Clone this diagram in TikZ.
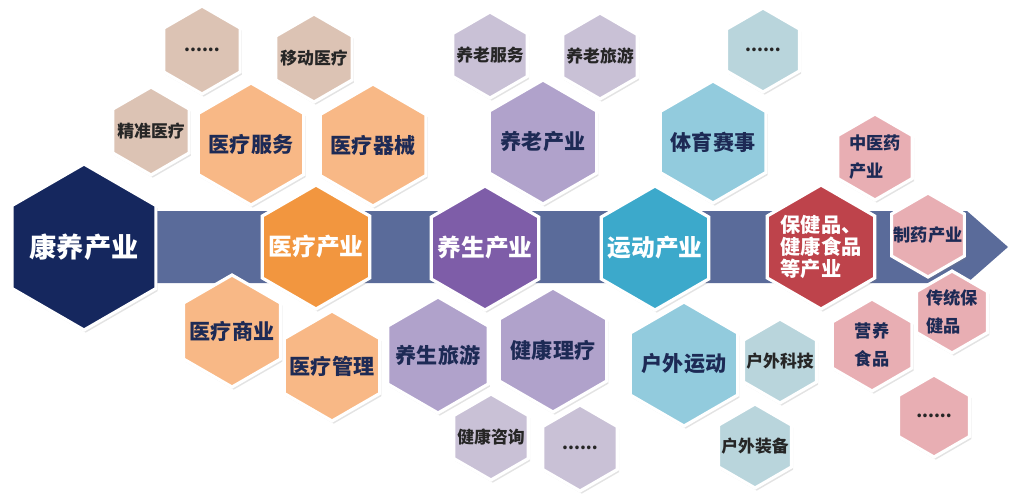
\documentclass[tikz,border=0pt]{standalone}
\usepackage{fontspec}
\setmainfont{Noto Sans CJK SC}
\usetikzlibrary{shadows}

\definecolor{navy}{HTML}{15275E}
\definecolor{bandblue}{HTML}{5A6B9A}
\definecolor{orangecore}{HTML}{F2963F}
\definecolor{orangemid}{HTML}{F8B886}
\definecolor{tansmall}{HTML}{DCC3B4}
\definecolor{purplecore}{HTML}{7E5DA8}
\definecolor{purplemid}{HTML}{B0A2CB}
\definecolor{purplesmall}{HTML}{C9C1D6}
\definecolor{tealcore}{HTML}{3CA9CB}
\definecolor{bluemid}{HTML}{92CBDD}
\definecolor{bluesmall}{HTML}{B9D5DC}
\definecolor{redcore}{HTML}{BE434B}
\definecolor{pinksmall}{HTML}{E8AEB3}
\definecolor{darktext}{HTML}{1D2A55}

\tikzset{
  hexborder/.style={draw=white, line width=1.8pt, line join=miter,
    drop shadow={opacity=0.22, shadow xshift=1pt, shadow yshift=-1.5pt}},
  coretext/.style={text=white, font=\bfseries\fontsize{13.5}{16}\selectfont},
  midtext/.style={text=darktext, font=\bfseries\fontsize{12}{14}\selectfont},
  smalltext/.style={text=black!85, font=\bfseries\fontsize{9.6}{16}\selectfont},
  pinktext/.style={text=darktext, font=\bfseries\fontsize{9.8}{16}\selectfont, align=left},
}

% name, x, y, radius, fill, text style, text
\newcommand{\hexcell}[7]{%
  \filldraw[hexborder, fill=#5, shift={(#2,#3)}]
    (90:#4) -- (30:#4) -- (-30:#4) -- (-90:#4) -- (-150:#4) -- (150:#4) -- cycle;
  \node[#6] (#1) at (#2,#3) {#7};
}

\begin{document}
\begin{tikzpicture}[x=0.02cm, y=-0.02cm]
  \useasboundingbox (0,0) rectangle (1011,500);

  % band
  \fill[bandblue] (90,211) -- (967,211) -- (1008,247) -- (967,283) -- (90,283) -- cycle;

  % small outer hexagons
  \hexcell{dotsmed}{202}{50}{44}{tansmall}{smalltext}{......}
  \hexcell{mobile}{314}{58}{44}{tansmall}{smalltext}{移动医疗}
  \hexcell{precise}{151}{131}{44}{tansmall}{smalltext}{精准医疗}

  \hexcell{eldercare}{490}{55}{43}{purplesmall}{smalltext}{养老服务}
  \hexcell{eldertour}{600}{56}{43}{purplesmall}{smalltext}{养老旅游}
  \hexcell{consult}{491}{437}{43}{purplesmall}{smalltext}{健康咨询}
  \hexcell{dotswell}{580}{448}{43}{purplesmall}{smalltext}{......}

  \hexcell{dotssport}{763}{50}{42}{bluesmall}{smalltext}{......}
  \hexcell{outtech}{780}{361}{42}{bluesmall}{smalltext}{户外科技}
  \hexcell{outgear}{755}{446}{42}{bluesmall}{smalltext}{户外装备}

  \hexcell{tcm}{875}{157}{43}{pinksmall}{pinktext}{中医药\\产业}
  \hexcell{pharma}{928}{235}{42}{pinksmall}{pinktext}{制药产业}
  \hexcell{tradition}{952}{312}{41}{pinksmall}{pinktext}{传统保\\健品}
  \hexcell{nutrition}{872}{345}{46}{pinksmall}{pinktext}{营养\\食品}
  \hexcell{dotsfood}{934}{416}{41}{pinksmall}{smalltext}{......}

  % middle hexagons
  \hexcell{medservice}{251}{144}{61}{orangemid}{midtext}{医疗服务}
  \hexcell{meddevice}{373}{145}{61}{orangemid}{midtext}{医疗器械}
  \hexcell{medbusiness}{232}{331}{56}{orangemid}{midtext}{医疗商业}
  \hexcell{medmanage}{332}{366}{55}{orangemid}{midtext}{医疗管理}

  \hexcell{elderly}{543}{142}{62}{purplemid}{midtext}{养老产业}
  \hexcell{welltour}{438}{355}{58}{purplemid}{midtext}{养生旅游}
  \hexcell{therapy}{553}{350}{62}{purplemid}{midtext}{健康理疗}

  \hexcell{events}{713}{142}{61}{bluemid}{midtext}{体育赛事}
  \hexcell{outdoor}{684}{364}{62}{bluemid}{midtext}{户外运动}

  % core chain
  \hexcell{kangyang}{84}{247}{83}{navy}{coretext, font=\bfseries\fontsize{15.5}{18}\selectfont}{康养产业}
  \hexcell{medical}{316}{247}{62}{orangecore}{coretext}{医疗产业}
  \hexcell{wellness}{485}{248}{62}{purplecore}{coretext}{养生产业}
  \hexcell{sport}{655}{248}{62}{tealcore}{coretext}{运动产业}
  \hexcell{healthfood}{821}{247}{62}{redcore}{coretext, align=left, font=\bfseries\fontsize{11.5}{12.5}\selectfont}{保健品、\\健康食品\\等产业}
\end{tikzpicture}
\end{document}
